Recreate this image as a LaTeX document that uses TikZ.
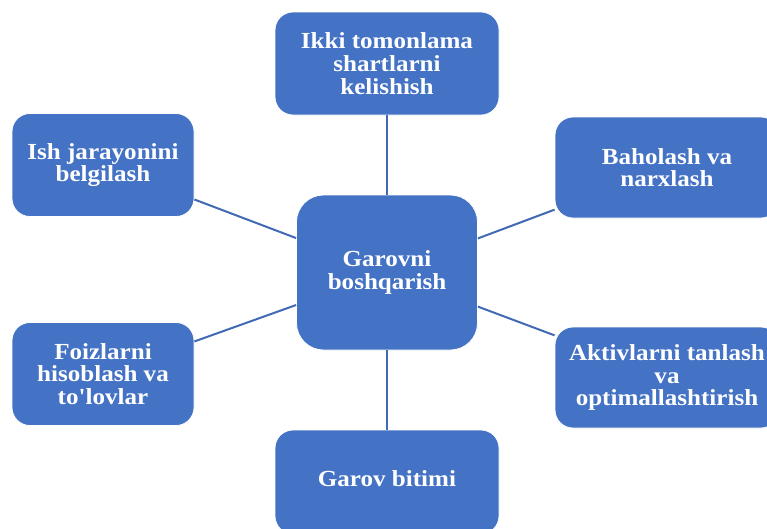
\documentclass[tikz,border=0pt]{standalone}
\usepackage{fontspec}
\newfontfamily\boxfont{Liberation Serif}[FakeStretch=1.09]
\definecolor{boxblue}{HTML}{4472C4}
\definecolor{lineblue}{HTML}{4169B4}
\begin{document}
\begin{tikzpicture}[x=1pt,y=-1pt,
  box/.style={rectangle, rounded corners=18pt, fill=boxblue, draw=white, line width=0.8pt,
    text=white, align=center, inner sep=0pt,
    font=\boxfont\fontsize{23}{22.7}\selectfont\bfseries},
  smallbox/.style={box, minimum width=182pt, minimum height=103pt},
  widebox/.style={box, minimum width=224pt, minimum height=103pt},
  centerbox/.style={box, rounded corners=27pt, minimum width=181pt, minimum height=155pt},
  link/.style={draw=lineblue, line width=2pt}]
\useasboundingbox (0,0) rectangle (767,528);
\clip (0,0) rectangle (767,528);
\node[centerbox] (c) at (387,272.5) {Garovni\\boshqarish};
\node[widebox] (t) at (387,63.5) {Ikki tomonlama\\shartlarni\\kelishish};
\node[widebox, minimum height=104pt] (b) at (387,482) {\raisebox{7pt}{Garov bitimi}};
\node[smallbox] (lt) at (103,165) {Ish jarayonini\\belgilash};
\node[smallbox] (lb) at (103,374) {Foizlarni\\hisoblash va\\to'lovlar};
\node[widebox, minimum height=101pt] (rt) at (667,167.5) {Baholash va\\narxlash};
\node[widebox, minimum height=101pt] (rb) at (667,377.5) {Aktivlarni tanlash\\va\\optimallashtirish};
\draw[link] (c) -- (t);
\draw[link] (c) -- (b);
\draw[link] (c) -- (lt);
\draw[link] (c) -- (lb);
\draw[link] (c) -- (rt);
\draw[link] (c) -- (rb);
\end{tikzpicture}
\end{document}
